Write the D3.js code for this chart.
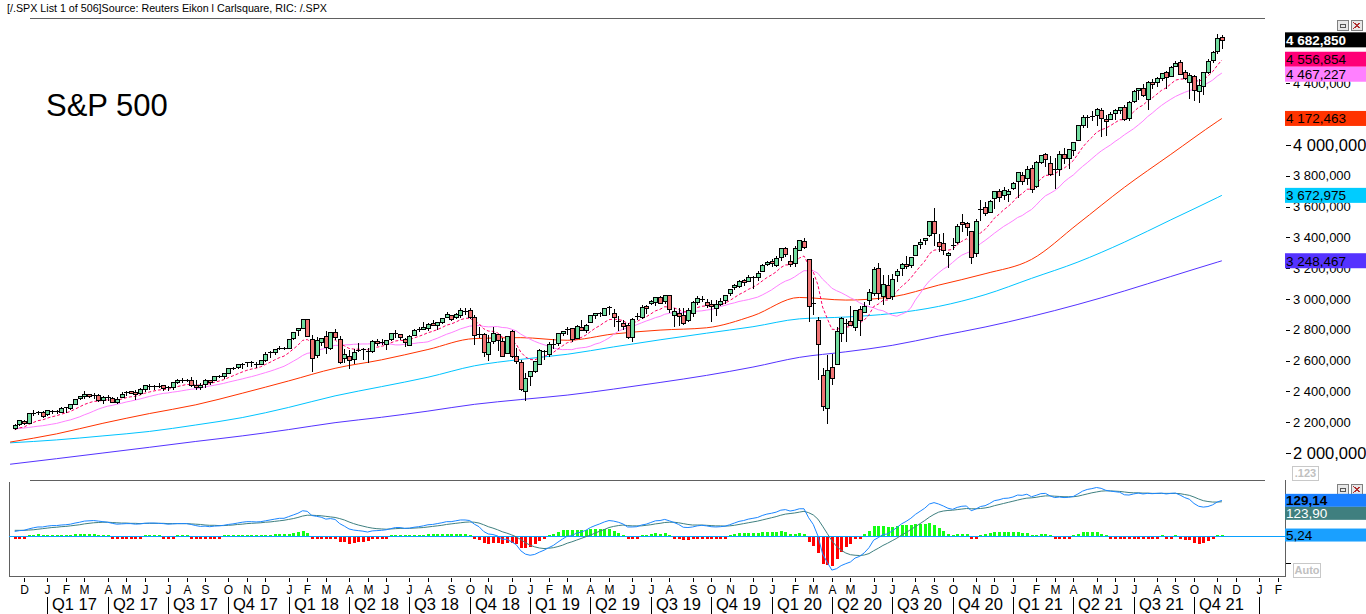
<!DOCTYPE html>
<html><head><meta charset="utf-8">
<script src="https://cdn.jsdelivr.net/npm/d3@7"></script>
<style>
body{margin:0;background:#fff;overflow:hidden}
svg{display:block}
text{font-family:"Liberation Sans",Arial,sans-serif}
</style>
</head><body>
<svg id="c" width="1366" height="614"></svg>
<script>
// ---------------- DATA (weekly S&P 500, week ending Fri 2016-11-18 .. 2021-11-12) ----------------
const firstWeekFriday = [2016, 10, 18];
const weekOpen = [2165,2186,2211,2197,2260,2260,2267,2251,2274,2270,2268,2294,2295,2321,2354,2367,2380,2371,2379,2344,
2363,2355,2332,2363,2389,2400,2393,2387,2416,2437,2432,2438,2439,2431,2426,2460,2473,2475,2477,2443,
2429,2447,2474,2474,2501,2503,2521,2548,2556,2578,2583,2588,2580,2580,2603,2657,2653,2683,2683,2684,
2745,2798,2809,2867,2741,2636,2722,2758,2681,2783,2742,2619,2633,2611,2670,2675,2663,2665,2728,2718,
2705,2742,2780,2773,2742,2704,2765,2798,2805,2813,2844,2828,2852,2885,2897,2884,2896,2925,2926,2882,
2775,2773,2640,2727,2773,2730,2650,2790,2630,2590,2401,2498,2532,2580,2657,2644,2703,2712,2780,2802,
2810,2747,2819,2797,2849,2893,2909,2898,2940,2908,2859,2841,2830,2751,2886,2886,2952,2971,2980,3013,
2986,3024,2898,2907,2898,2866,2910,2980,3000,2983,2968,2944,2966,2996,3036,3079,3087,3123,3117,3144,
3142,3183,3227,3248,3218,3273,3333,3248,3236,3318,3379,3257,2974,2863,2508,2291,2558,2578,2782,2846,
2854,2815,2937,2913,2994,3038,3199,3017,3094,3018,3155,3201,3225,3219,3288,3356,3380,3418,3507,3370,
3363,3285,3342,3367,3500,3493,3441,3296,3583,3600,3566,3654,3699,3675,3684,3723,3764,3803,3788,3851,
3731,3892,3939,3886,3842,3844,3943,3917,3969,4034,4128,4183,4186,4192,4228,4169,4167,4207,4230,4249,
4174,4285,4356,4373,4296,4410,4407,4438,4475,4449,4513,4536,4473,4406,4449,4348,4386,4472,4553,4611,4702];
const weekHigh = [2189,2214,2214,2260,2278,2273,2273,2282,2279,2276,2301,2300,2319,2352,2368,2401,2384,2391,2382,2370,
2379,2361,2361,2398,2400,2404,2406,2419,2440,2446,2441,2454,2443,2433,2463,2478,2484,2480,2491,2474,
2455,2480,2475,2501,2509,2520,2553,2557,2576,2583,2588,2597,2590,2605,2658,2665,2678,2695,2686,2743,
2787,2811,2873,2870,2763,2755,2748,2789,2787,2802,2761,2675,2672,2675,2717,2683,2683,2733,2743,2742,
2736,2780,2801,2774,2744,2764,2802,2816,2849,2841,2864,2851,2876,2916,2898,2908,2941,2940,2939,2894,
2817,2779,2767,2815,2775,2747,2761,2800,2685,2601,2520,2532,2598,2675,2671,2718,2738,2776,2794,2816,
2814,2830,2861,2836,2894,2911,2917,2940,2955,2937,2892,2865,2841,2876,2911,2964,2959,2996,3014,3018,
3028,3028,2943,2940,2939,2940,2985,3021,3022,3002,2993,2993,3008,3027,3067,3098,3121,3128,3154,3148,
3183,3226,3248,3258,3282,3330,3337,3285,3347,3385,3393,3260,3137,2882,2553,2637,2641,2819,2880,2871,
2955,2930,2955,2981,3068,3211,3233,3156,3155,3165,3198,3236,3280,3272,3352,3387,3399,3509,3588,3425,
3429,3307,3397,3485,3550,3502,3441,3522,3646,3628,3645,3699,3712,3727,3712,3760,3827,3823,3861,3870,
3894,3937,3951,3929,3914,3960,3983,3975,4021,4130,4192,4195,4218,4239,4238,4197,4217,4234,4249,4262,
4287,4356,4372,4393,4415,4429,4441,4469,4481,4510,4545,4549,4485,4466,4457,4429,4475,4560,4608,4718,4715];
const weekLow = [2156,2184,2187,2192,2249,2253,2234,2246,2258,2258,2266,2267,2288,2320,2352,2358,2364,2359,2336,2322,
2344,2328,2323,2363,2379,2387,2353,2385,2403,2415,2418,2428,2406,2407,2415,2454,2459,2466,2437,2418,
2417,2429,2446,2474,2496,2489,2521,2543,2553,2554,2566,2566,2557,2579,2598,2624,2644,2673,2673,2682,
2743,2769,2809,2759,2533,2622,2699,2648,2673,2741,2585,2594,2553,2586,2660,2612,2594,2655,2702,2707,
2676,2735,2753,2743,2698,2699,2765,2792,2802,2796,2829,2803,2846,2885,2864,2876,2886,2903,2874,2710,
2755,2628,2603,2717,2671,2631,2649,2621,2583,2409,2347,2443,2525,2580,2612,2631,2682,2700,2765,2775,
2728,2746,2800,2785,2849,2874,2891,2896,2900,2825,2801,2805,2750,2729,2867,2874,2912,2965,2963,2975,
2975,2914,2822,2834,2835,2855,2891,2970,2985,2946,2856,2893,2958,2976,3023,3065,3078,3091,3115,3070,
3124,3183,3222,3213,3215,3256,3281,3214,3214,3315,3328,2856,2902,2479,2280,2192,2447,2575,2728,2727,
2831,2798,2766,2913,2969,3023,2999,2966,3004,3000,3116,3158,3200,3209,3284,3328,3354,3410,3349,3310,
3292,3209,3324,3361,3441,3415,3234,3280,3512,3543,3566,3594,3634,3648,3636,3715,3663,3750,3750,3694,
3725,3885,3865,3805,3723,3804,3885,3853,3937,4034,4114,4118,4164,4128,4057,4062,4167,4167,4210,4165,
4164,4278,4300,4321,4234,4368,4386,4422,4367,4448,4513,4458,4427,4306,4289,4278,4329,4469,4537,4595,4631];
const weekClose = [2182,2213,2192,2260,2258,2264,2239,2277,2275,2271,2295,2297,2316,2351,2367,2383,2373,2378,2344,2363,
2356,2329,2349,2384,2399,2391,2382,2416,2439,2432,2433,2438,2423,2425,2459,2473,2472,2477,2441,2426,
2443,2477,2461,2500,2502,2519,2549,2553,2575,2581,2588,2582,2579,2602,2642,2652,2676,2683,2674,2743,
2786,2810,2873,2762,2620,2732,2747,2691,2787,2752,2588,2641,2604,2656,2670,2670,2663,2728,2713,2721,
2735,2779,2779,2755,2718,2760,2801,2802,2819,2840,2833,2850,2875,2902,2872,2905,2930,2914,2886,2767,
2768,2659,2723,2781,2736,2633,2760,2633,2600,2417,2486,2532,2596,2671,2665,2707,2708,2776,2793,2804,
2743,2822,2801,2834,2893,2907,2905,2940,2946,2881,2860,2826,2752,2873,2887,2950,2942,2990,3014,2977,
3026,2932,2919,2889,2847,2926,2979,3007,2992,2962,2952,2970,2986,3023,3067,3093,3120,3110,3141,3146,
3169,3221,3240,3235,3265,3330,3295,3226,3328,3380,3338,2954,2972,2711,2305,2541,2489,2790,2875,2837,
2831,2930,2864,2955,3044,3194,3041,3098,3009,3130,3185,3225,3216,3271,3351,3373,3397,3508,3427,3341,
3319,3298,3348,3477,3484,3465,3270,3509,3585,3558,3638,3699,3663,3709,3703,3756,3825,3768,3841,3714,
3887,3935,3907,3811,3842,3943,3913,3975,4020,4129,4185,4180,4181,4233,4174,4156,4204,4230,4247,4166,
4281,4352,4370,4327,4412,4395,4437,4468,4442,4509,4535,4459,4433,4455,4357,4391,4471,4545,4605,4698,4683];

// moving averages (weekly)
const ema10 = [2152,2163,2168,2185,2198,2210,2215,2226,2235,2242,2252,2260,2270,2285,2300,2315,2326,2335,2337,2342,
2345,2342,2343,2350,2359,2365,2368,2377,2388,2396,2403,2409,2412,2414,2422,2431,2438,2445,2444,2441,
2441,2448,2450,2459,2467,2476,2489,2501,2514,2526,2537,2545,2551,2560,2575,2589,2605,2619,2629,2650,
2675,2700,2731,2737,2716,2719,2724,2718,2731,2735,2708,2696,2679,2675,2674,2673,2671,2681,2687,2693,
2701,2715,2727,2732,2729,2735,2747,2757,2768,2781,2790,2801,2814,2830,2838,2850,2865,2874,2876,2856,
2840,2807,2792,2790,2780,2753,2754,2732,2708,2655,2624,2607,2605,2617,2626,2641,2653,2675,2696,2716,
2721,2739,2750,2765,2788,2810,2827,2848,2866,2869,2867,2860,2840,2846,2853,2871,2884,2903,2923,2933,
2950,2947,2942,2932,2917,2919,2930,2944,2953,2955,2954,2957,2962,2973,2990,3009,3029,3044,3062,3077,
3094,3117,3139,3156,3176,3204,3221,3222,3241,3266,3279,3220,3175,3091,2948,2874,2804,2801,2814,2818,
2820,2840,2844,2864,2897,2951,2967,2991,2994,3019,3049,3081,3106,3136,3175,3211,3245,3293,3317,3321,
3321,3317,3323,3351,3375,3391,3369,3394,3429,3452,3486,3525,3550,3579,3602,3630,3665,3684,3713,3713,
3745,3780,3803,3804,3811,3835,3849,3872,3899,3941,3985,4020,4049,4082,4099,4109,4126,4145,4164,4164,
4185,4215,4243,4258,4286,4306,4330,4355,4371,4396,4421,4428,4429,4434,4420,4415,4425,4447,4476,4516,4552];
const sma20 = [2156,2160,2162,2166,2170,2174,2177,2182,2187,2192,2200,2208,2215,2225,2235,2248,2259,2272,2285,2295,
2304,2309,2317,2323,2331,2337,2344,2351,2359,2367,2374,2381,2387,2390,2395,2399,2404,2409,2414,2417,
2422,2429,2435,2440,2446,2452,2460,2467,2474,2481,2489,2496,2504,2513,2522,2531,2541,2552,2563,2579,
2596,2613,2633,2647,2652,2663,2673,2680,2691,2699,2699,2702,2703,2706,2707,2708,2708,2710,2712,2711,
2708,2707,2702,2702,2706,2708,2711,2716,2718,2722,2734,2745,2758,2771,2781,2793,2806,2815,2824,2826,
2828,2822,2819,2820,2821,2815,2813,2804,2793,2772,2755,2739,2725,2713,2703,2693,2682,2675,2671,2672,
2671,2679,2683,2686,2694,2707,2715,2730,2747,2771,2789,2804,2812,2822,2833,2845,2857,2867,2879,2887,
2901,2907,2913,2915,2913,2914,2918,2921,2923,2928,2932,2939,2951,2959,2968,2975,2984,2990,2996,3004,
3012,3026,3042,3059,3080,3100,3116,3127,3144,3165,3184,3183,3183,3167,3129,3101,3070,3054,3041,3025,
3008,2994,2975,2961,2950,2943,2930,2924,2908,2895,2888,2901,2914,2942,2994,3035,3081,3117,3144,3170,
3194,3212,3237,3263,3285,3298,3310,3330,3359,3380,3403,3427,3449,3471,3489,3508,3529,3542,3563,3581,
3610,3642,3670,3686,3704,3728,3760,3784,3805,3834,3861,3885,3911,3937,3961,3981,4000,4023,4043,4066,
4086,4106,4130,4155,4184,4207,4233,4257,4278,4297,4315,4329,4342,4353,4362,4374,4387,4403,4421,4447,4467];
// slow averages, sampled every 10 weeks (week index relative to first candle)
const slowWeeks = [-1,9,19,29,39,49,59,69,79,89,99,109,119,129,139,149,159,169,179,189,199,209,219,229,239,249,259,260];
const sma50 = [2071,2124,2193,2256,2313,2388,2468,2550,2605,2672,2743,2749,2732,2773,2798,2813,2891,3010,2993,3014,3090,3164,3257,3488,3725,3939,4152,4172];
const sma100 = [2066,2085,2111,2140,2182,2230,2296,2371,2431,2492,2566,2608,2641,2689,2735,2778,2820,2871,2883,2906,2952,3028,3134,3240,3369,3514,3658,3673];
const sma200 = [1927,1963,2000,2037,2075,2111,2152,2197,2232,2272,2316,2347,2376,2415,2458,2504,2558,2621,2657,2699,2759,2818,2887,2965,3052,3146,3239,3248];

// MACD (12,26,9) panel
const macdLine = [18,21,22,27,31,34,34,37,39,39,41,42,44,48,51,55,56,57,55,53,
51,47,44,45,46,46,44,45,47,48,48,47,46,44,45,46,46,46,43,39,
36,37,35,37,38,40,43,45,48,51,53,53,52,53,56,59,62,65,65,71,
77,83,92,90,75,72,69,62,64,61,46,37,27,23,21,19,16,20,21,22,
24,28,32,32,29,30,33,35,38,42,43,46,49,53,53,56,59,59,57,44,
35,18,9,7,2,-10,-10,-19,-29,-51,-63,-67,-64,-56,-49,-40,-32,-20,-9,1,
3,12,16,22,32,39,45,52,57,55,51,45,34,34,35,41,44,50,56,57,
61,56,50,43,33,32,34,38,40,38,35,34,35,37,42,48,54,57,62,65,
68,75,80,83,87,94,96,91,94,99,99,67,43,2,-62,-92,-120,-115,-104,-97,
-91,-77,-71,-58,-40,-13,-4,7,9,20,32,45,54,65,79,90,101,116,121,116,
109,101,97,104,108,109,92,98,107,110,118,128,131,136,137,141,148,147,151,142,
147,153,154,145,139,141,139,140,143,152,162,168,171,175,172,165,162,160,158,149,
148,152,155,152,154,153,154,155,152,154,155,148,139,133,118,108,105,107,113,123,129];
const signalLine = [22,22,22,23,24,26,28,30,32,33,35,36,38,40,42,45,47,49,50,51,
51,50,49,48,48,47,47,46,47,47,47,47,47,46,46,46,46,46,45,44,
43,41,40,40,39,39,40,41,43,44,46,47,48,49,51,52,54,56,58,61,
64,68,73,76,76,75,74,72,70,68,64,59,52,46,41,37,33,30,28,27,
26,27,28,29,29,29,30,31,32,34,36,38,40,43,45,47,49,51,52,51,
48,42,35,30,24,17,12,6,-1,-11,-22,-31,-37,-41,-43,-42,-40,-36,-31,-24,
-19,-13,-7,-1,5,12,19,25,32,36,39,41,39,38,38,38,40,42,45,47,
50,51,51,49,46,43,41,41,41,40,39,38,38,37,38,40,43,46,49,52,
55,59,63,67,71,76,80,82,84,87,90,85,77,62,37,11,-15,-35,-49,-59,
-65,-67,-68,-66,-61,-51,-42,-32,-24,-15,-6,5,14,25,35,46,57,69,79,87,
91,93,94,96,98,100,99,99,100,102,105,110,114,118,122,126,130,134,137,138,
140,143,145,145,144,143,142,142,142,144,148,152,156,159,162,163,163,162,161,159,
157,156,156,155,155,154,154,154,154,154,154,153,150,147,141,134,128,125,123,123,124];
const macdHist = [-4.0,-0.7,-0.2,4.3,6.6,7.7,6.2,7.1,7.0,6.0,6.2,5.9,6.2,8.0,9.4,10.4,9.4,8.2,4.4,2.6,
0.4,-3.2,-4.5,-3.3,-1.8,-1.7,-2.6,-1.3,0.6,0.9,0.7,0.4,-1.1,-2.3,-1.2,0,0.2,0.3,-2.4,-5.3,
-6.2,-4.6,-4.8,-2.6,-1.3,0.4,3.0,4.3,5.9,6.7,6.8,5.7,4.1,3.9,5.7,6.7,8.1,8.5,7.2,9.8,
13.1,15.5,19.6,13.4,-1.0,-3.5,-4.6,-9.3,-6.2,-6.9,-18.0,-21.3,-25.1,-23.4,-20.6,-18.1,-16.4,-10.6,-7.6,-5.2,
-2.7,1.6,4.0,3.4,0.3,0.7,3.3,4.6,6.0,7.6,7.4,7.8,9.0,10.5,8.5,8.6,9.3,7.8,4.2,-6.3,
-13.0,-23.9,-25.8,-22.2,-22.0,-27.4,-21.5,-24.9,-27.9,-39.9,-40.9,-36.2,-27.0,-14.7,-6.2,2.5,8.3,16.3,21.7,25.0,
22.1,24.3,23.1,23.4,26.1,27.2,26.3,26.4,25.3,18.6,12.0,4.6,-5.3,-3.9,-2.3,2.6,4.6,8.4,11.4,10.0,
11.2,4.9,-0.6,-6.4,-12.8,-11.5,-7.1,-2.5,-0.9,-2.1,-3.8,-3.8,-3.0,-0.3,3.8,7.5,10.9,11.4,12.6,12.7,
13.0,15.3,16.7,15.6,15.6,18.2,15.9,8.6,9.3,11.8,9.3,-18.1,-33.9,-59.4,-98.7,-103.4,-104.4,-80.2,-55.1,-38.4,
-25.8,-9.7,-2.6,8.4,21.1,38.1,37.4,39.0,32.7,34.8,38.1,40.7,39.6,40.2,43.3,44.1,43.4,47.2,41.4,29.5,
18.1,7.8,3.4,7.8,9.7,8.1,-6.6,-1.0,6.5,8.1,12.9,17.8,16.9,17.2,14.8,15.1,17.8,13.7,13.8,3.8,
7.1,10.6,9.1,0.3,-4.6,-2.2,-3.7,-2.0,0.8,8.2,14.7,16.2,15.1,15.5,9.7,2.6,-0.1,-1.7,-2.9,-10.2,
-8.3,-3.6,-0.7,-3.1,-0.4,-1.5,-0.6,0.6,-1.8,-0.3,0.9,-4.6,-10.9,-14.2,-23.2,-26.7,-23.6,-16.9,-9.2,1.0,5.2];

// axis labels (4 200,000 and 4 600,000 sit fully under the value boxes in the original)
const priceTicks = [2000,2200,2400,2600,2800,3000,3200,3400,3600,3800,4000,4400];
const bigTicks = [2000,4000];
const monthLetters = "DJFMAMJJASONDJFMAMJJASONDJFMAMJJASONDJFMAMJJASONDJFMAMJJASONDJF".split("");
const quarterLabels = ["Q1 17","Q2 17","Q3 17","Q4 17","Q1 18","Q2 18","Q3 18","Q4 18","Q1 19","Q2 19","Q3 19","Q4 19",
"Q1 20","Q2 20","Q3 20","Q4 20","Q1 21","Q2 21","Q3 21","Q4 21"];
const priceLabels = [
  {text:"4 682,850", value:4682.85, bg:"#000000", fg:"#ffffff", bold:true},
  {text:"4 556,854", value:4556.854, bg:"#ff0077", fg:"#000000"},
  {text:"4 467,227", value:4467.227, bg:"#ff80ff", fg:"#000000"},
  {text:"4 172,463", value:4172.463, bg:"#ff3300", fg:"#000000"},
  {text:"3 672,975", value:3672.975, bg:"#00ccff", fg:"#000000"},
  {text:"3 248,467", value:3248.467, bg:"#5533ff", fg:"#000000"}];
const macdLabels = [
  {text:"129,14", value:129.14, bg:"#1a7fff", fg:"#000000", bold:true},
  {text:"123,90", value:123.90, bg:"#3f7f7f", fg:"#ffffff"},
  {text:"5,24", value:5.24, bg:"#1aa0ff", fg:"#000000"}];

// ---------------- DRAW ----------------
const svg = d3.select("#c");
const start = new Date(firstWeekFriday[0], firstWeekFriday[1], firstWeekFriday[2]);
const weekDate = i => d3.timeDay.offset(start, 7 * i);
const x = d3.scaleTime().domain([new Date(2016, 11, 2), new Date(2022, 0, 7)]).range([24, 1259]);
const xw = i => x(weekDate(i));
const y = d3.scaleLinear().domain([2000, 4000]).range([453, 145]);
const ym = d3.scaleLinear().domain([0, 100]).range([536.5, 508.5]);

// header
svg.append("text").attr("x", 7).attr("y", 12).attr("font-size", 11).attr("fill", "#000")
  .attr("textLength", 320).attr("lengthAdjust", "spacingAndGlyphs")
  .text("[/.SPX List 1 of 506]Source: Reuters Eikon l Carlsquare, RIC: /.SPX");
svg.append("line").attr("x1", 30).attr("x2", 1265).attr("y1", 18.5).attr("y2", 18.5).attr("stroke", "#606060");

// title
svg.append("text").attr("x", 46).attr("y", 116).attr("font-size", 31).attr("fill", "#000").text("S&P 500");

// moving average lines
const gL = svg.append("g").attr("fill", "none").attr("stroke-width", 1);
const lineW = d3.line().x(d => xw(d[0])).y(d => y(d[1]));
const lineSlow = d3.line().x(d => xw(d[0])).y(d => y(d[1])).curve(d3.curveMonotoneX);
const slowSeries = [[sma200, "#5533ff"], [sma100, "#00c4ff"], [sma50, "#ff3300"]];
slowSeries.forEach(([arr, col]) => {
  gL.append("path").attr("d", lineSlow(arr.map((v, k) => [slowWeeks[k], v]))).attr("stroke", col);
});
gL.append("path").attr("d", lineW(sma20.map((v, i) => [i, v]))).attr("stroke", "#ff80ff");
gL.append("path").attr("d", lineW(ema10.map((v, i) => [i, v]))).attr("stroke", "#ff0066").attr("stroke-dasharray", "3,2");

// candles
const gC = svg.append("g").attr("shape-rendering", "crispEdges");
weekClose.forEach((c, i) => {
  const o = weekOpen[i], h = weekHigh[i], l = weekLow[i];
  const px = Math.round(xw(i));
  gC.append("line").attr("x1", px + 0.5).attr("x2", px + 0.5)
    .attr("y1", Math.round(y(h))).attr("y2", Math.round(y(l)) + 1).attr("stroke", "#000");
  const top = Math.round(y(Math.max(o, c))), bot = Math.round(y(Math.min(o, c)));
  if (bot - top < 2) {
    gC.append("line").attr("x1", px - 2).attr("x2", px + 3).attr("y1", top + 0.5).attr("y2", top + 0.5).attr("stroke", "#000");
  } else {
    gC.append("rect").attr("x", px - 1.5).attr("y", top + 0.5).attr("width", 4).attr("height", bot - top)
      .attr("fill", c >= o ? "#72dca0" : "#f07474").attr("stroke", "#000");
  }
});

// price axis
const gA = svg.append("g");
priceTicks.forEach(v => {
  const big = bigTicks.includes(v);
  const yy = y(v);
  gA.append("line").attr("x1", 1286).attr("x2", big ? 1291 : 1290).attr("y1", Math.round(yy) + 0.5).attr("y2", Math.round(yy) + 0.5)
    .attr("stroke", "#000").attr("shape-rendering", "crispEdges");
  const txt = Math.floor(v / 1000) + " " + String(v % 1000).padStart(3, "0") + ",000";
  gA.append("text").attr("x", 1293).attr("y", yy).attr("dy", "0.36em")
    .attr("font-size", big ? 16.5 : 13).attr("fill", "#000").text(txt);
});

// value labels (stacked to avoid overlap)
function drawLabels(list, scale, h, fsize) {
  let prevBottom = -Infinity;
  list.map(d => ({...d, yy: scale(d.value)})).sort((a, b) => a.yy - b.yy).forEach(d => {
    let top = d.yy - h / 2;
    if (top < prevBottom) top = prevBottom;
    prevBottom = top + h;
    svg.append("rect").attr("x", 1285).attr("y", top).attr("width", 81).attr("height", h).attr("fill", d.bg);
    svg.append("text").attr("x", 1286).attr("y", top + h / 2).attr("dy", "0.36em")
      .attr("font-size", fsize).attr("font-weight", d.bold ? "bold" : "normal").attr("fill", d.fg).text(d.text);
  });
}
drawLabels(priceLabels, y, 15, 13.5);

// grey widgets
function widget(xx, yy, w, h, t) {
  svg.append("rect").attr("x", xx + 0.5).attr("y", yy + 0.5).attr("width", w).attr("height", h)
    .attr("fill", "none").attr("stroke", "#c8c8c8");
  svg.append("text").attr("x", xx + w / 2 + 0.5).attr("y", yy + h / 2 + 0.5).attr("dy", "0.36em")
    .attr("text-anchor", "middle").attr("font-size", 11).attr("font-weight", "bold").attr("fill", "#c0c0c0").text(t);
}
widget(1292, 466, 26, 14, ".123");
widget(1293, 563, 27, 14, "Auto");
function icons(yy) {
  const g = svg.append("g").attr("shape-rendering", "crispEdges");
  g.append("rect").attr("x", 1337.5).attr("y", yy + 0.5).attr("width", 11).attr("height", 10).attr("fill", "#e8e8e8").attr("stroke", "#808080");
  g.append("rect").attr("x", 1340.5).attr("y", yy + 4.5).attr("width", 5).attr("height", 3).attr("fill", "none").attr("stroke", "#555");
  g.append("rect").attr("x", 1351.5).attr("y", yy + 0.5).attr("width", 11).attr("height", 10).attr("fill", "#e8e8e8").attr("stroke", "#808080");
  g.append("path").attr("d", `M1353.5,${yy + 2.5}L1360.5,${yy + 8.5}M1360.5,${yy + 2.5}L1353.5,${yy + 8.5}`).attr("stroke", "#b03030").attr("stroke-width", 1.2);
}
icons(20);
icons(484);

// ---------------- MACD panel ----------------
const gP = svg.append("g").attr("shape-rendering", "crispEdges").attr("stroke", "#606060");
gP.append("line").attr("x1", 30).attr("x2", 1265).attr("y1", 480.5).attr("y2", 480.5);
gP.append("line").attr("x1", 9.5).attr("x2", 9.5).attr("y1", 482).attr("y2", 577);
gP.append("line").attr("x1", 9).attr("x2", 1286).attr("y1", 576.5).attr("y2", 576.5);
gP.append("line").attr("x1", 1285.5).attr("x2", 1285.5).attr("y1", 480).attr("y2", 577);
gP.append("line").attr("x1", 1286).attr("x2", 1291).attr("y1", 563.5).attr("y2", 563.5).attr("stroke", "#000");

// histogram
const gH = svg.append("g").attr("shape-rendering", "crispEdges");
const y0 = ym(0);
macdHist.forEach((v, i) => {
  const px = Math.round(xw(i));
  const yv = ym(v);
  let top = Math.min(y0, yv), hgt = Math.abs(yv - y0);
  if (hgt < 2) { hgt = 2; top = v >= 0 ? y0 - 2 : y0; }
  gH.append("rect").attr("x", px - 1).attr("y", top).attr("width", 3).attr("height", hgt)
    .attr("fill", v >= 0 ? "#14ff14" : "#ff0000");
});
// zero line
svg.append("line").attr("x1", 9).attr("x2", 1285).attr("y1", y0).attr("y2", y0)
  .attr("stroke", "#0aa0ff").attr("shape-rendering", "crispEdges");
// MACD and signal
const lineM = d3.line().x((d, i) => xw(i)).y(d => ym(d));
svg.append("path").attr("d", lineM(signalLine)).attr("fill", "none").attr("stroke", "#3f8080");
svg.append("path").attr("d", lineM(macdLine)).attr("fill", "none").attr("stroke", "#1a86ff");
drawLabels(macdLabels, ym, 13, 13.5);

// ---------------- time axis ----------------
const gX = svg.append("g");
const months = d3.timeMonth.range(new Date(2016, 11, 1), new Date(2022, 2, 1));
months.forEach((m, k) => {
  const xx = Math.round(x(d3.timeFriday.ceil(m)));
  gX.append("line").attr("x1", xx + 0.5).attr("x2", xx + 0.5).attr("y1", 578).attr("y2", 582)
    .attr("stroke", "#000").attr("shape-rendering", "crispEdges");
  gX.append("text").attr("x", xx + 0.5).attr("y", 593.5).attr("text-anchor", "middle")
    .attr("font-size", 12).attr("fill", "#000").text(monthLetters[k]);
});
const qStarts = months.filter(m => m.getMonth() % 3 === 0 && m >= new Date(2017, 0, 1));
qStarts.forEach((m, k) => {
  const xx = Math.round(x(d3.timeFriday.ceil(m)));
  gX.append("line").attr("x1", xx + 0.5).attr("x2", xx + 0.5).attr("y1", 597).attr("y2", 614)
    .attr("stroke", "#000").attr("shape-rendering", "crispEdges");
  if (k < quarterLabels.length) {
    gX.append("text").attr("x", xx + 5).attr("y", 610).attr("font-size", 16.5).attr("fill", "#000").text(quarterLabels[k]);
  }
});
</script>
</body></html>
